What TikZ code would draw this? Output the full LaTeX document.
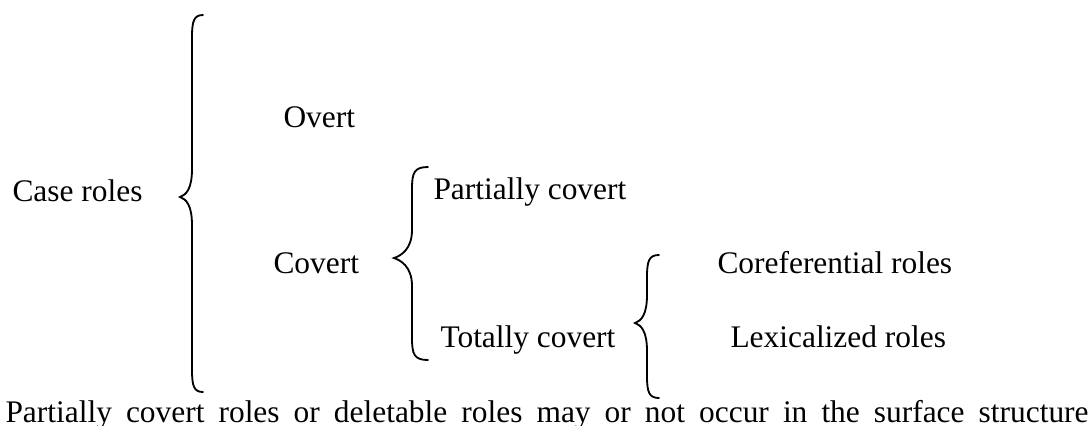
\documentclass[tikz,border=0pt]{standalone}
\usepackage{fontspec}
\setmainfont{Liberation Serif}

% left curly brace: line x, end x, tip x, top y, tip y, bottom y
\newcommand{\curlybrace}[6]{%
  \draw[brace line] (#2,#4) .. controls (#1+2,#4) and (#1,#4+6) .. (#1,#4+22)
    -- (#1,#5-28) .. controls (#1,#5-8) and (#3+6,#5-2) .. (#3,#5)
    .. controls (#3+6,#5+2) and (#1,#5+8) .. (#1,#5+28)
    -- (#1,#6-22) .. controls (#1,#6-6) and (#1+2,#6) .. (#2,#6);}

\begin{document}
\begin{tikzpicture}[x=0.382pt, y=-0.382pt,
    every node/.style={inner sep=0pt, anchor=base west,
      font=\fontsize{12pt}{14pt}\selectfont},
    brace line/.style={line width=0.7pt, line cap=round}]
  \useasboundingbox (0,0) rectangle (1091,425);

  \node (case) at (12,201) {Case roles};
  \node (overt) at (283,127) {Overt};
  \node (covert) at (273,273) {Covert};
  \node (partial) at (433,199) {Partially covert};
  \node (total) at (440,347) {Totally covert};
  \node (coref) at (717,273) {Coreferential roles};
  \node (lexic) at (730,347) {Lexicalized roles};

  \curlybrace{192}{203}{180}{15}{197}{392}
  \curlybrace{412}{428}{394}{167}{258}{360}
  \curlybrace{647}{659}{635}{255}{323}{398}

  \node (note) at (5,422) {\makebox[413.7pt][s]{Partially covert roles or deletable roles may or not occur in the surface structure}};
\end{tikzpicture}
\end{document}
